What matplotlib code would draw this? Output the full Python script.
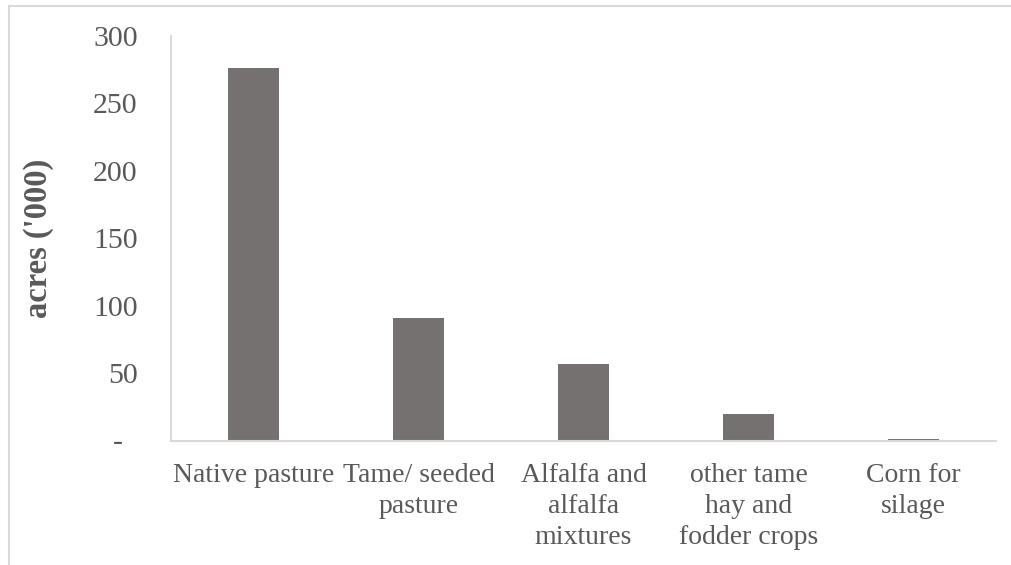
import matplotlib
matplotlib.use("Agg")
import matplotlib.pyplot as plt
from matplotlib.lines import Line2D

categories = ["Native pasture", "Tame/ seeded\npasture", "Alfalfa and\nalfalfa\nmixtures",
              "other tame\nhay and\nfodder crops", "Corn for\nsilage"]
acres_thousands = [276, 91, 56.5, 19.5, 1.2]
y_ticks = [0, 50, 100, 150, 200, 250, 300]
y_tick_labels = ["-  ", "50", "100", "150", "200", "250", "300"]

W, H = 1012, 565
plt.rcParams["font.family"] = ["Liberation Serif", "DejaVu Serif"]

fig = plt.figure(figsize=(W / 100, H / 100), dpi=100)
ax = fig.add_axes([171 / W, (H - 440.5) / H, (996 - 171) / W, (440.5 - 36) / H])

text_color = "#595959"
line_color = "#d9d9d9"

x = range(len(categories))
ax.bar(x, acres_thousands, width=0.315, color="#767171", zorder=2)

ax.set_xlim(-0.5, len(categories) - 0.5)
ax.set_ylim(0, 300)
ax.set_yticks(y_ticks)
ax.set_yticklabels(y_tick_labels)
ax.set_xticks(list(x))
ax.set_xticklabels(categories, linespacing=1.33)
ax.tick_params(axis="both", length=0, labelcolor=text_color)
ax.tick_params(axis="x", labelsize=20, pad=16)
ax.tick_params(axis="y", labelsize=21.5, pad=24)

for side in ["top", "right"]:
    ax.spines[side].set_visible(False)
for side in ["left", "bottom"]:
    ax.spines[side].set_color(line_color)
    ax.spines[side].set_linewidth(1.5)

ax.set_ylabel("acres ('000)", fontsize=23.5, fontweight="bold", color=text_color)
ax.yaxis.set_label_coords(-0.142, 0.5)

# chart-area border
fig.add_artist(Line2D([8.5 / W, 8.5 / W], [0, (H - 6) / H], color=line_color, lw=1.5))
fig.add_artist(Line2D([8.5 / W, 1], [(H - 6) / H, (H - 6) / H], color=line_color, lw=1.5))

fig.savefig("out.png", dpi=100)
